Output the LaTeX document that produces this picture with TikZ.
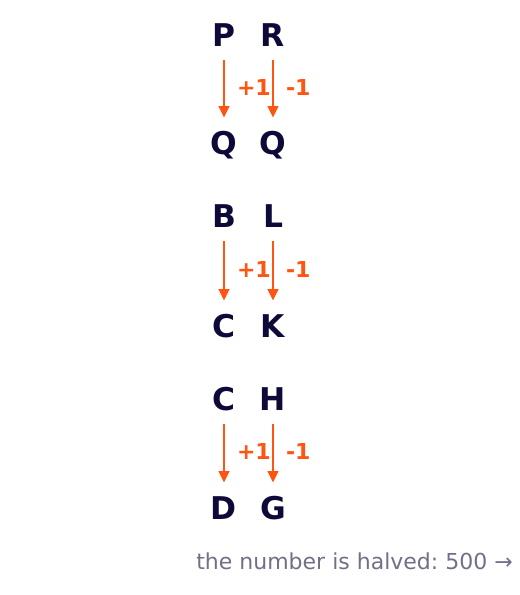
\documentclass[tikz,border=0pt]{standalone}
\usepackage{fontspec}
\setmainfont{DejaVu Sans}
\usepackage{tikz}
\usetikzlibrary{arrows.meta}
\usetikzlibrary{calc,positioning}

\definecolor{inkblue}{HTML}{0D0A3A}
\definecolor{shiftorange}{HTML}{FF5511}
\definecolor{notegrey}{HTML}{707088}
\frenchspacing

\begin{document}
\begin{tikzpicture}[x=0.75pt, y=-0.75pt,
			letter/.style = {inner sep=0pt, text height=17pt, text depth=0pt,
					font=\fontsize{23.5}{23.5}\selectfont\bfseries, inkblue},
			shiftarrow/.style = {draw=shiftorange, line width=1.5pt,
					-{Triangle[length=8.5pt, width=8pt]},
					shorten <=10pt, shorten >=10.5pt},
			gain/.style = {midway, right, inner sep=0pt, xshift=9pt, yshift=1.5pt,
					font=\fontsize{16.5}{16.5}\selectfont\bfseries, shiftorange},
			note/.style = {anchor=base east, inner sep=0pt,
					font=\fontsize{16.5}{16.5}\selectfont, notegrey}
		]
		\useasboundingbox (0,0) rectangle (520,595);
		% first pair
		\node [letter] (p1) at (224,35) {P};
		\node [letter] (r1) at (273,35) {R};
		\node [letter] (q1) at (224,143) {Q};
		\node [letter] (q2) at (273,143) {Q};
		\draw [shiftarrow] (p1) -- node [gain] {+1} (q1);
		\draw [shiftarrow] (r1) -- node [gain] {-1} (q2);
		% second pair
		\node [letter] (b1) at (224,216) {B};
		\node [letter] (l1) at (273,216) {L};
		\node [letter] (c1) at (224,326) {C};
		\node [letter] (k1) at (273,326) {K};
		\draw [shiftarrow] (b1) -- node [gain] {+1} (c1);
		\draw [shiftarrow] (l1) -- node [gain] {-1} (k1);
		% third pair
		\node [letter] (c2) at (224,399) {C};
		\node [letter] (h1) at (273,399) {H};
		\node [letter] (d1) at (224,508) {D};
		\node [letter] (g1) at (273,508) {G};
		\draw [shiftarrow] (c2) -- node [gain] {+1} (d1);
		\draw [shiftarrow] (h1) -- node [gain] {-1} (g1);
		\node [note] (halved) at (513,569) {the number is halved: 500 →};
	\end{tikzpicture}
\end{document}
